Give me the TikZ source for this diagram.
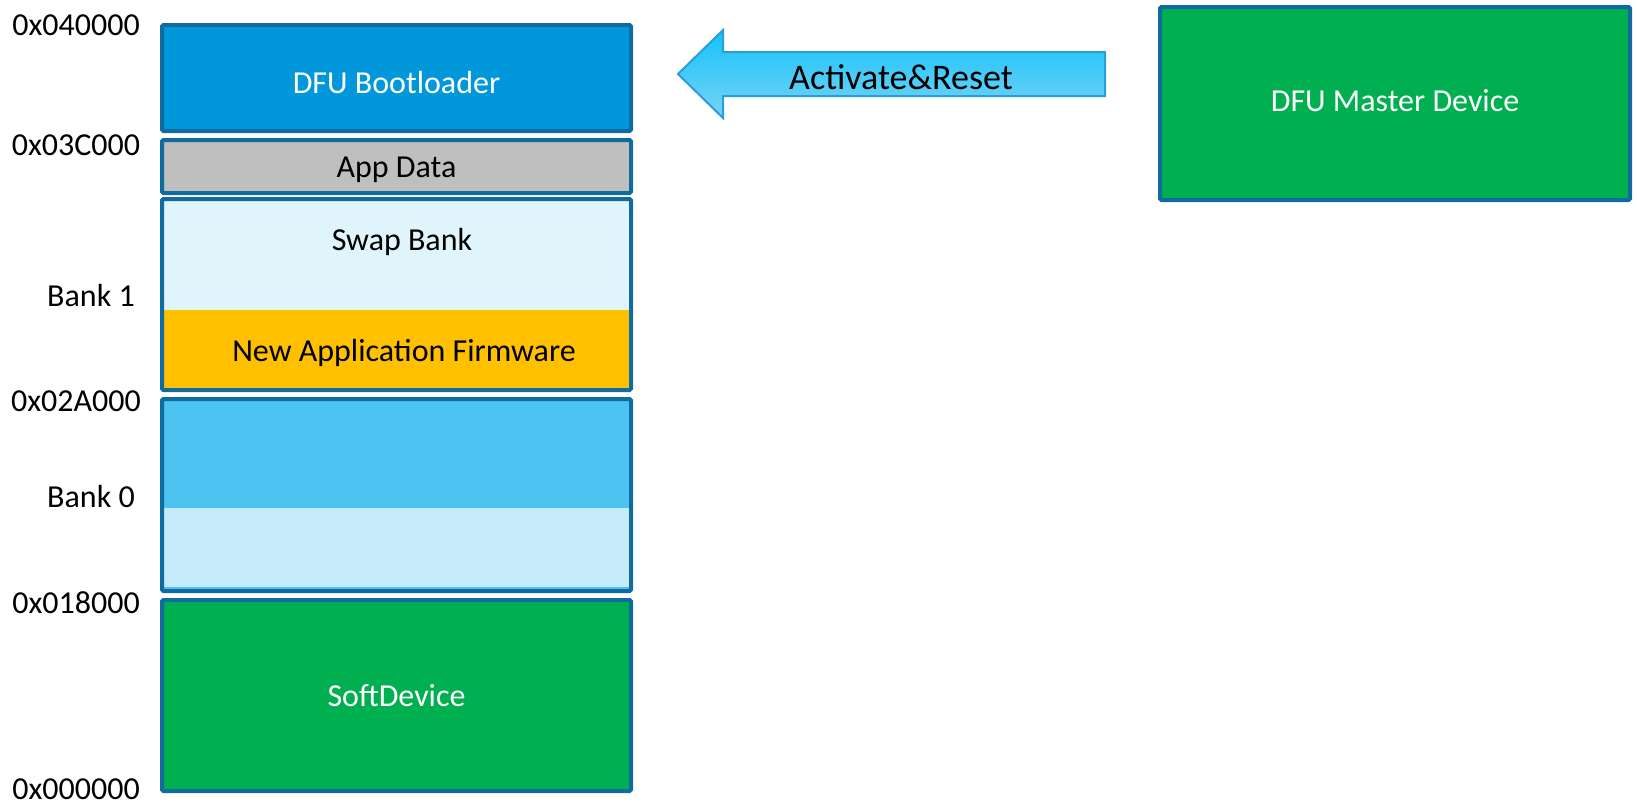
\documentclass[tikz,border=0pt]{standalone}
\usepackage{fontspec}
\setmainfont{Carlito}
\usepackage{xcolor}
\usetikzlibrary{positioning}

\definecolor{frameblue}{RGB}{16,107,158}
\definecolor{bootblue}{RGB}{0,152,218}
\definecolor{datagray}{RGB}{191,191,191}
\definecolor{swapblue}{RGB}{224,244,251}
\definecolor{fworange}{RGB}{255,192,0}
\definecolor{bankmid}{RGB}{77,195,242}
\definecolor{banklight}{RGB}{197,234,249}
\definecolor{sdgreen}{RGB}{0,176,80}
\definecolor{arrowtop}{RGB}{20,194,250}
\definecolor{arrowbot}{RGB}{120,212,245}
\definecolor{arrowedge}{RGB}{40,158,218}

\begin{document}
\begin{tikzpicture}[x=1pt,y=-1pt,
  membox/.style={draw=frameblue, line width=4pt, rounded corners=1.5pt,
                 minimum width=469pt, inner sep=0pt,
                 font=\fontsize{32}{38}\selectfont},
  lbl/.style={inner sep=0pt, font=\fontsize{32}{38}\selectfont},
]
\useasboundingbox (0,0) rectangle (1637,807);

% memory map, top to bottom
\node[membox, fill=bootblue, text=white, minimum height=106pt, text height=32pt] (boot) at (396.5,78) {DFU Bootloader};
\node[membox, fill=datagray, minimum height=53pt, text height=28pt] (appdata) at (396.5,166.5) {App Data};

\fill[swapblue] (162,199) rectangle (631,310);
\fill[fworange] (162,310) rectangle (631,390);
\node[membox, minimum height=191pt] (bank1) at (396.5,294.5) {};
\node[lbl] (swap) at (402,242) {Swap Bank};
\node[lbl] (newfw) at (404,353) {New Application Firmware};

\fill[bankmid] (162,399) rectangle (631,508);
\fill[banklight] (162,508) rectangle (631,587);
\fill[bankmid] (162,587) rectangle (631,591);
\node[membox, minimum height=192pt] (bank0) at (396.5,495) {};

\node[membox, fill=sdgreen, text=white, minimum height=191pt] (soft) at (396.5,695.5) {SoftDevice};

% addresses
\foreach \addr/\yy [count=\i] in {0x040000/25, 0x03C000/145, 0x02A000/401, 0x018000/603, 0x000000/789}
  \node[lbl] (addr\i) at (76,\yy) {\addr};
\node[lbl] (banklbl1) at (91,295) {Bank 1};
\node[lbl] (banklbl0) at (91,496) {Bank 0};

% master
\node[membox, fill=sdgreen, text=white, minimum width=470pt, minimum height=193pt, text depth=6pt] (master) at (1395,103.5) {DFU Master Device};

% block arrow
\draw[arrowedge, line width=2pt, line join=miter, top color=arrowtop, bottom color=arrowbot]
  (678,74) -- (723,30) -- (723,52) -- (1105,52) -- (1105,96) -- (723,96) -- (723,118) -- cycle;
\node[lbl, font=\fontsize{36}{42}\selectfont] (activate) at (901,77) {Activate\&Reset};

\end{tikzpicture}
\end{document}
